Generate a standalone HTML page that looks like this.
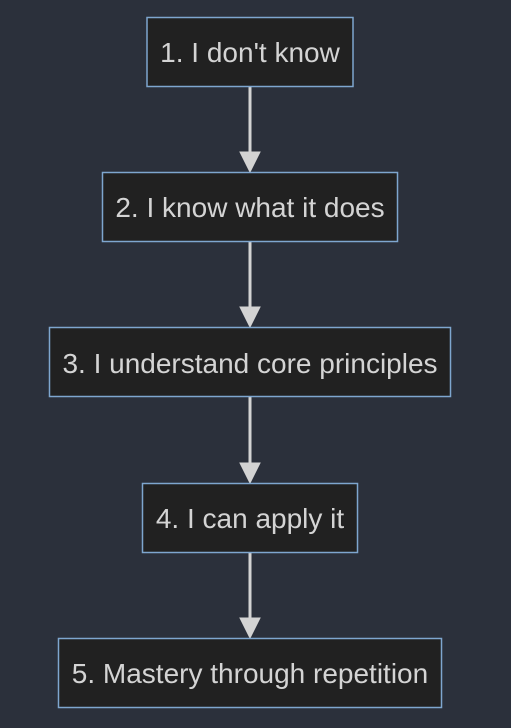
<!DOCTYPE html>
<html><head><style>
html,body{margin:0;padding:0;background:#2b303b;}
svg{display:block}
text{font-family:"Liberation Sans",sans-serif;font-size:28px;fill:#d4d4d4;}
</style></head><body>
<svg width="511" height="728" xmlns="http://www.w3.org/2000/svg">
<rect width="511" height="728" fill="#2b303b"/>
<g stroke="#d3d3d3" stroke-width="3" fill="#d3d3d3">
<line x1="250" y1="86" x2="250" y2="155"/><path d="M240,152 L260,152 L250,172 Z" stroke-width="1"/>
<line x1="250" y1="241" x2="250" y2="310"/><path d="M240,307 L260,307 L250,327 Z" stroke-width="1"/>
<line x1="250" y1="396" x2="250" y2="466"/><path d="M240,463 L260,463 L250,483 Z" stroke-width="1"/>
<line x1="250" y1="552" x2="250" y2="621"/><path d="M240,618 L260,618 L250,638 Z" stroke-width="1"/>
</g>
<g fill="#212121" stroke="#7ea6cf" stroke-width="1.5">
<rect x="147" y="17.5" width="206" height="69"/>
<rect x="102.5" y="172.5" width="295" height="69"/>
<rect x="49.5" y="327.5" width="401" height="69"/>
<rect x="142.5" y="483.5" width="215" height="69"/>
<rect x="58.5" y="638.5" width="383" height="69"/>
</g>
<g text-anchor="middle">
<text x="250" y="62">1. I don't know</text>
<text x="250" y="217">2. I know what it does</text>
<text x="250" y="373">3. I understand core principles</text>
<text x="250" y="528">4. I can apply it</text>
<text x="250" y="683">5. Mastery through repetition</text>
</g>
</svg>
</body></html>
